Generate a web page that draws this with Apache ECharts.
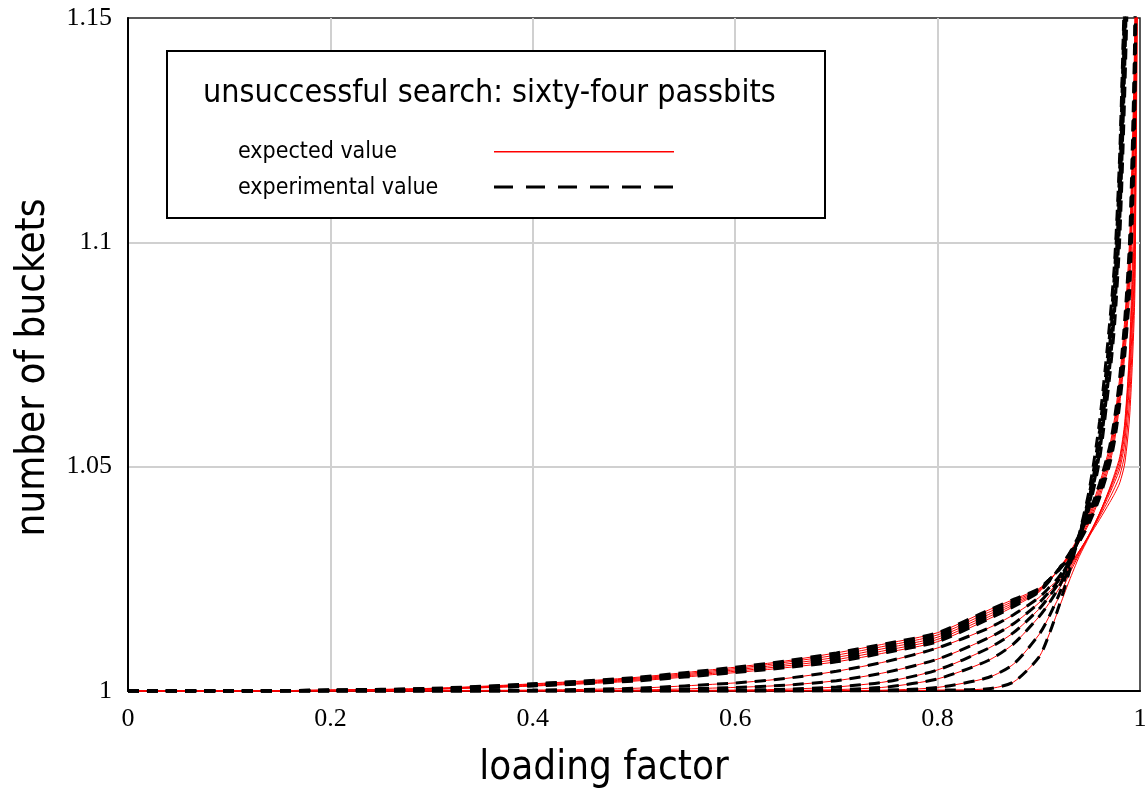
<!DOCTYPE html>
<html>
<head>
<meta charset="utf-8">
<script src="https://cdn.jsdelivr.net/npm/echarts@6/dist/echarts.min.js"></script>
<style>
html,body{margin:0;padding:0;background:#fff;}
#chart{width:1148px;height:792px;}
</style>
</head>
<body>
<div id="chart"></div>
<script>
// loading factor grid
var loadX = [0, 0.1, 0.2, 0.3, 0.4, 0.5, 0.6, 0.65, 0.7, 0.75, 0.8, 0.85, 0.875, 0.9, 0.91, 0.92, 0.93, 0.94, 0.95, 0.96, 0.97, 0.975, 0.98, 0.985, 0.99, 0.995, 1];

// upper bundle: expected and experimental lie on top of each other
var bundle1 = [1, 1.0000, 1.0002, 1.0006, 1.0016, 1.0030, 1.0053, 1.0067, 1.0085, 1.0106, 1.0130, 1.0180, 1.0204, 1.0228, 1.0248, 1.0270, 1.0298, 1.0332, 1.0375, 1.0430, 1.0505, 1.0560, 1.0640, 1.0750, 1.0900, 1.1300, 1.30];
var bundle2 = [1, 1.0000, 1.0002, 1.0005, 1.0015, 1.0028, 1.0050, 1.0064, 1.0080, 1.0101, 1.0125, 1.0175, 1.0200, 1.0226, 1.0247, 1.0270, 1.0300, 1.0336, 1.0380, 1.0438, 1.0515, 1.0572, 1.0655, 1.0770, 1.0930, 1.1350, 1.30];
var bundle3 = [1, 1.0000, 1.0002, 1.0005, 1.0013, 1.0026, 1.0047, 1.0060, 1.0075, 1.0096, 1.0120, 1.0170, 1.0196, 1.0224, 1.0246, 1.0271, 1.0302, 1.0340, 1.0386, 1.0446, 1.0525, 1.0585, 1.0670, 1.0790, 1.0960, 1.1400, 1.30];
var bundle4 = [1, 1.0000, 1.0001, 1.0004, 1.0012, 1.0024, 1.0044, 1.0056, 1.0070, 1.0091, 1.0115, 1.0165, 1.0192, 1.0222, 1.0245, 1.0272, 1.0304, 1.0344, 1.0392, 1.0454, 1.0535, 1.0598, 1.0685, 1.0810, 1.0990, 1.1450, 1.30];
var bundle5 = [1, 1.0000, 1.0001, 1.0004, 1.0011, 1.0022, 1.0041, 1.0052, 1.0065, 1.0086, 1.0110, 1.0160, 1.0188, 1.0220, 1.0244, 1.0273, 1.0306, 1.0348, 1.0398, 1.0462, 1.0545, 1.0610, 1.0700, 1.0830, 1.1020, 1.1500, 1.30];

// steeper curves, experimental (black dashed)
var steep1Exp = [1, 1, 1.0000, 1.0001, 1.0002, 1.0006, 1.0018, 1.0028, 1.0044, 1.0066, 1.0096, 1.0140, 1.0170, 1.0208, 1.0230, 1.0255, 1.0292, 1.0340, 1.0410, 1.0515, 1.0700, 1.0820, 1.1010, 1.1340, 1.18, 1.27, 1.45];
var steep2Exp = [1, 1, 1, 1.0000, 1.0001, 1.0002, 1.0008, 1.0013, 1.0023, 1.0042, 1.0071, 1.0118, 1.0150, 1.0196, 1.0220, 1.0248, 1.0290, 1.0343, 1.0418, 1.0530, 1.0720, 1.0850, 1.1050, 1.1400, 1.19, 1.28, 1.45];
var steep3Exp = [1, 1, 1, 1, 1.0000, 1.0001, 1.0002, 1.0004, 1.0009, 1.0021, 1.0047, 1.0095, 1.0130, 1.0182, 1.0210, 1.0242, 1.0287, 1.0345, 1.0425, 1.0545, 1.0745, 1.0880, 1.1090, 1.1460, 1.20, 1.29, 1.45];
var steep4Exp = [1, 1, 1, 1, 1, 1.0000, 1.0000, 1.0001, 1.0003, 1.0009, 1.0027, 1.0068, 1.0105, 1.0165, 1.0195, 1.0232, 1.0282, 1.0347, 1.0432, 1.0560, 1.0770, 1.0910, 1.1130, 1.1520, 1.21, 1.30, 1.45];
var steep5Exp = [1, 1, 1, 1, 1, 1, 1.0000, 1.0000, 1.0001, 1.0002, 1.0008, 1.0030, 1.0060, 1.0125, 1.0165, 1.0215, 1.0277, 1.0348, 1.0440, 1.0580, 1.0795, 1.0940, 1.1170, 1.1570, 1.215, 1.305, 1.45];
var steep6Exp = [1, 1, 1, 1, 1, 1, 1, 1, 1.0000, 1.0000, 1.0002, 1.0005, 1.0020, 1.0075, 1.0125, 1.0190, 1.0265, 1.0350, 1.0450, 1.0600, 1.0820, 1.0960, 1.1200, 1.1600, 1.22, 1.31, 1.45];

// steeper curves, expected (red) - leave the dashed ones past 0.92 and bend right
var steep1Calc = [1, 1, 1.0000, 1.0001, 1.0002, 1.0006, 1.0018, 1.0028, 1.0044, 1.0066, 1.0096, 1.0140, 1.0170, 1.0208, 1.0230, 1.0250, 1.0280, 1.0312, 1.0346, 1.0382, 1.0420, 1.0440, 1.0464, 1.0508, 1.0620, 1.0900, 1.25];
var steep2Calc = [1, 1, 1, 1.0000, 1.0001, 1.0002, 1.0008, 1.0013, 1.0023, 1.0042, 1.0071, 1.0118, 1.0150, 1.0196, 1.0220, 1.0245, 1.0278, 1.0312, 1.0348, 1.0388, 1.0430, 1.0453, 1.0480, 1.0530, 1.0660, 1.0950, 1.26];
var steep3Calc = [1, 1, 1, 1, 1.0000, 1.0001, 1.0002, 1.0004, 1.0009, 1.0021, 1.0047, 1.0095, 1.0130, 1.0182, 1.0210, 1.0238, 1.0274, 1.0311, 1.0350, 1.0392, 1.0440, 1.0466, 1.0495, 1.0555, 1.0700, 1.1000, 1.27];
var steep4Calc = [1, 1, 1, 1, 1, 1.0000, 1.0000, 1.0001, 1.0003, 1.0009, 1.0027, 1.0068, 1.0105, 1.0165, 1.0195, 1.0228, 1.0268, 1.0308, 1.0350, 1.0396, 1.0446, 1.0474, 1.0505, 1.0575, 1.0730, 1.1050, 1.28];
var steep5Calc = [1, 1, 1, 1, 1, 1, 1.0000, 1.0000, 1.0001, 1.0002, 1.0008, 1.0030, 1.0060, 1.0125, 1.0165, 1.0210, 1.0260, 1.0305, 1.0348, 1.0396, 1.0450, 1.0480, 1.0515, 1.0590, 1.0760, 1.1100, 1.29];
var steep6Calc = [1, 1, 1, 1, 1, 1, 1, 1, 1.0000, 1.0000, 1.0002, 1.0005, 1.0020, 1.0075, 1.0125, 1.0185, 1.0245, 1.0300, 1.0345, 1.0395, 1.0452, 1.0485, 1.0522, 1.0600, 1.0780, 1.1200, 1.30];

var expectedCurves = [bundle1, bundle2, bundle3, bundle4, bundle5, steep1Calc, steep2Calc, steep3Calc, steep4Calc, steep5Calc, steep6Calc];
var experimentalCurves = [bundle1, bundle2, bundle3, bundle4, bundle5, steep1Exp, steep2Exp, steep3Exp, steep4Exp, steep5Exp, steep6Exp];

var xTicks = [0, 0.2, 0.4, 0.6, 0.8, 1];
var yTicks = [1, 1.05, 1.1, 1.15];

function pairUp(ys) {
	var pts = [];
	for (var i = 0; i < loadX.length; i++) {
		pts.push([loadX[i], ys[i]]);
	}
	return pts;
}

var seriesList = [];
// red expected first, black dashed experimental on top
for (var i = 0; i < expectedCurves.length; i++) {
	seriesList.push({
		name: 'expected value',
		type: 'line',
		symbol: 'none',
		smooth: 0.25,
		clip: true,
		lineStyle: {color: '#ff0000', width: 1},
		data: pairUp(expectedCurves[i])
	});
}
for (var j = 0; j < experimentalCurves.length; j++) {
	seriesList.push({
		name: 'experimental value',
		type: 'line',
		symbol: 'none',
		smooth: 0.25,
		clip: true,
		lineStyle: {color: '#000000', width: 3, type: [11, 8]},
		data: pairUp(experimentalCurves[j])
	});
}

// legend box drawn by hand (text left, sample line right)
var legendFont = '23px "DejaVu Sans Condensed"';
var legendBox = [{
	type: 'rect',
	shape: {x: 167, y: 51, width: 658, height: 167},
	style: {fill: '#ffffff', stroke: '#000', lineWidth: 2},
	z: 50
}, {
	type: 'text', x: 238, y: 152, z: 51,
	style: {text: 'expected value', font: legendFont, fill: '#000', verticalAlign: 'middle'}
}, {
	type: 'rect', z: 51,
	shape: {x: 494, y: 151, width: 180, height: 1.6},
	style: {fill: '#ff0000'}
}, {
	type: 'text', x: 238, y: 188, z: 51,
	style: {text: 'experimental value', font: legendFont, fill: '#000', verticalAlign: 'middle'}
}, {
	type: 'line', z: 51,
	shape: {x1: 494, y1: 187, x2: 674, y2: 187},
	style: {stroke: '#000', lineWidth: 3, lineDash: [19, 13]}
}, {
	type: 'text', x: 203, y: 94, z: 51,
	style: {text: 'unsuccessful search: sixty-four passbits', font: '32px "DejaVu Sans Condensed"', fill: '#000', verticalAlign: 'middle'}
}];

var chart = echarts.init(document.getElementById('chart'));
var option = {
	animation: false,
	backgroundColor: '#ffffff',
	grid: {
		left: 128, right: 8, top: 18, bottom: 101,
		outerBoundsMode: 'none',
		show: true, borderColor: '#222', borderWidth: 1.5
	},
	xAxis: {
		type: 'value',
		min: 0, max: 1, interval: 0.2,
		name: 'loading factor',
		nameLocation: 'middle',
		nameGap: 58,
		nameTextStyle: {fontFamily: 'DejaVu Sans Condensed', fontSize: 40, color: '#000', padding: [0, 60, 0, 0]},
		axisLine: {lineStyle: {color: '#000', width: 2}},
		axisTick: {show: false},
		axisLabel: {
			fontFamily: 'Liberation Serif', fontSize: 26, color: '#000', margin: 15,
			formatter: function (v) { return xTicks.indexOf(Math.round(v * 10) / 10) >= 0 ? String(Math.round(v * 10) / 10) : ''; }
		},
		splitLine: {showMinLine: false, showMaxLine: false, lineStyle: {color: '#d0d0d0', width: 2}}
	},
	yAxis: {
		type: 'value',
		min: 1, max: 1.15, interval: 0.05,
		name: 'number of buckets',
		nameLocation: 'middle',
		nameGap: 74,
		nameTextStyle: {fontFamily: 'DejaVu Sans Condensed', fontSize: 40, color: '#000', padding: [0, 26, 0, 0]},
		axisLine: {lineStyle: {color: '#000', width: 2}},
		axisTick: {show: false},
		axisLabel: {
			fontFamily: 'Liberation Serif', fontSize: 26, color: '#000', margin: 16,
			formatter: function (v) { return String(Math.round(v * 100) / 100); }
		},
		splitLine: {showMinLine: false, showMaxLine: false, lineStyle: {color: '#d0d0d0', width: 2}}
	},
	graphic: legendBox,
	series: seriesList
};
chart.setOption(option);
window.onresize = chart.resize;
</script>
</body>
</html>
